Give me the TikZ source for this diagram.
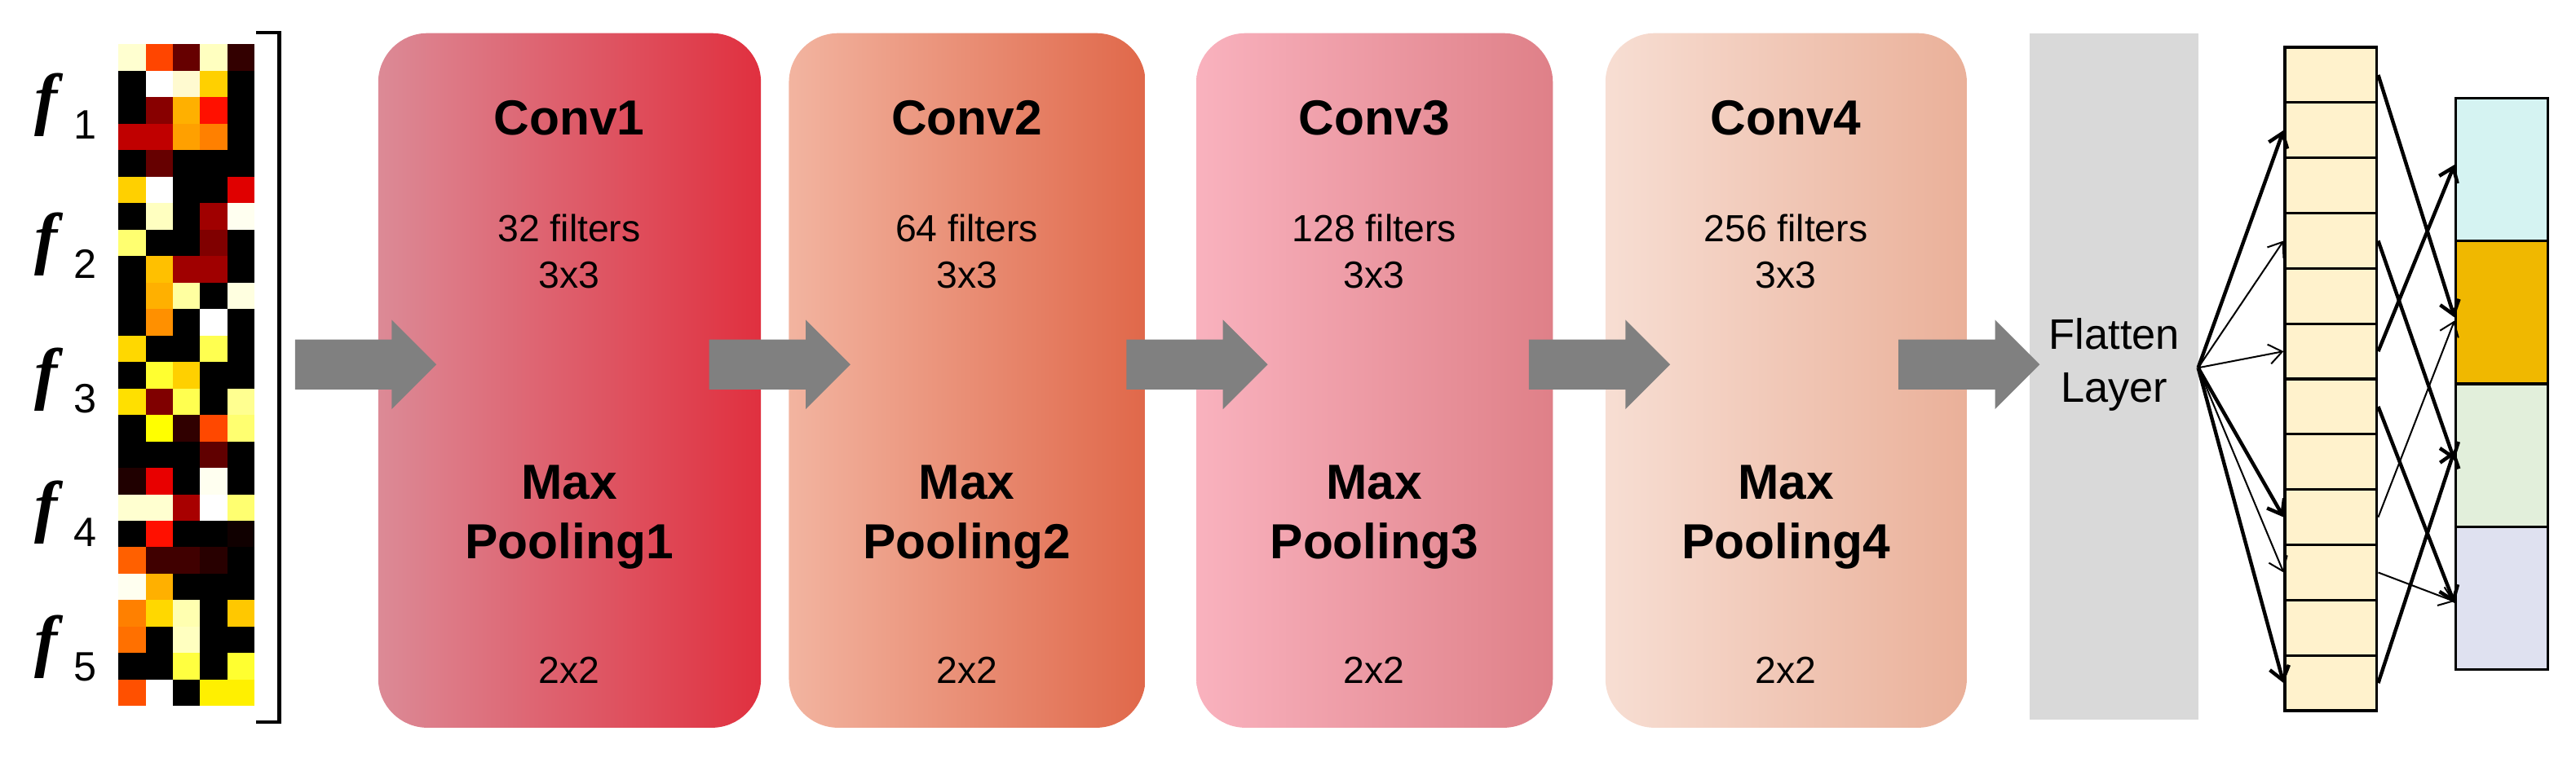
\documentclass[tikz,border=0pt]{standalone}
\usepackage{fontspec}
\setmainfont{Liberation Sans}
\newfontfamily\serifit{Liberation Serif}
\usetikzlibrary{shapes.arrows,arrows.meta}
\begin{document}
\begin{tikzpicture}[x=1pt,y=-1pt,
  blk/.style={single arrow,fill=black!50,draw=none,minimum height=86pt,minimum width=54pt,single arrow head extend=12pt,single arrow head indent=0pt,inner xsep=0pt,inner ysep=15pt,text height=0pt,text depth=0pt},
  conv/.style={rounded corners=30pt,minimum width=#1,minimum height=423pt,anchor=north west,inner sep=0pt},
  ttl/.style={font=\fontsize{30}{32}\selectfont\bfseries,align=center},
  txt/.style={font=\fontsize{23}{28}\selectfont,align=center},
  cell/.style={draw,line width=1.6pt,anchor=north west,inner sep=0pt},
  thk/.style={-{Straight Barb[length=8pt,width=12pt]},line width=2.2pt},
  thn/.style={-{Straight Barb[length=8pt,width=12pt]},line width=1pt}]
\useasboundingbox (0,0) rectangle (1568,464);
% heatmap
\foreach \lst [count=\r from 0] in {
{FFFFD0,FF4500,660000,FFFFC0,330000},
{000000,FFFFFF,FFFAD0,FFD000,000000},
{000000,880000,FFB000,FF1000,000000},
{C00000,C00000,FFA000,FF8000,000000},
{000000,660000,000000,000000,000000},
{FFD000,FFFFFF,000000,000000,E00000},
{000000,FFFFC0,000000,A00000,FFFFF0},
{FFFF70,000000,000000,800000,000000},
{000000,FFC000,A00000,A00000,000000},
{000000,FFB000,FFFFA0,000000,FFFFE0},
{000000,FF9000,000000,FFFFFF,000000},
{FFD800,000000,000000,FFFF50,000000},
{000000,FFFF30,FFD000,000000,000000},
{FFE000,800000,FFFF50,000000,FFFF90},
{000000,FFFF00,300000,FF4800,FFFF70},
{000000,000000,000000,600000,000000},
{200000,E80000,000000,FFFFF0,000000},
{FFFFD0,FFFFD0,A80000,FFFFFF,FFFF70},
{000000,FF1000,000000,000000,100000},
{FF6000,400000,400000,280000,000000},
{FFFFF0,FFB000,000000,000000,000000},
{FF8000,FFD800,FFFFB0,000000,FFC800},
{FF7000,000000,FFFFC0,000000,000000},
{000000,000000,FFFF40,000000,FFFF30},
{FF5000,FFFFFF,000000,FFF000,FFF000}}{
  \foreach \hc [count=\c from 0] in \lst {
    \definecolor{hm}{HTML}{\hc}
    \fill[hm] (72+16.6*\c,27+16.12*\r) rectangle (72+16.6*\c+16.7,27+16.12*\r+16.2);
  }}
\draw[line width=2pt] (156,20) -- (170,20) -- (170,440) -- (156,440);
\foreach \i/\y in {1/70,2/155,3/237,4/318,5/400}{
  \node[font=\fontsize{42}{42}\selectfont\serifit\bfseries\itshape] (f\i) at (28,\y-6) {f};
  \node[font=\fontsize{25}{25}\selectfont] (n\i) at (52,\y+6) {\i};
}
% conv boxes
\definecolor{c1l}{HTML}{DC8A96}\definecolor{c1r}{HTML}{E0303F}
\definecolor{c2l}{HTML}{F2B4A0}\definecolor{c2r}{HTML}{E0684A}
\definecolor{c3l}{HTML}{F9B2BE}\definecolor{c3r}{HTML}{DF8088}
\definecolor{c4l}{HTML}{F7DED3}\definecolor{c4r}{HTML}{EAB099}
\foreach \i/\x/\w/\nf in {1/230/233/32,2/480/217/64,3/728/217/128,4/977/220/256}{
  \node[conv=\w pt,left color=c\i l,right color=c\i r] (conv\i) at (\x,20) {};
  \node[ttl] (t\i) at (\x+\w/2,72) {Conv\i};
  \node[txt] (p\i) at (\x+\w/2,153) {\nf{} filters\\3x3};
  \node[ttl,font=\fontsize{30}{36}\selectfont\bfseries] (m\i) at (\x+\w/2,315) {Max\\Pooling\i};
  \node[txt] (s\i) at (\x+\w/2,408) {2x2};
}
\definecolor{fl}{HTML}{D9D9D9}
\node[fill=fl,minimum width=103pt,minimum height=418pt,anchor=north west,inner sep=0pt] (fl) at (1235,20) {};
\node[font=\fontsize{26}{32}\selectfont,align=center] (flt) at (1287,222) {Flatten\\Layer};
% block arrows
\foreach \i/\x in {1/215,2/467,3/721,4/966,5/1191}{
  \node[blk] (a\i) at (\x,222) {};
}
% cream column
\definecolor{cr}{HTML}{FFF2CC}
\foreach \i in {1,...,12}{
  \node[cell,fill=cr,minimum width=56pt,minimum height=33.67pt] (c\i) at (1390,28+33.67*\i-33.67) {};
}
\definecolor{o1}{HTML}{D5F3F2}\definecolor{o2}{HTML}{F0B800}\definecolor{o3}{HTML}{E2EFDB}\definecolor{o4}{HTML}{DFE1F0}
\foreach \i in {1,...,4}{
  \node[cell,fill=o\i,minimum width=56pt,minimum height=87pt] (o\i) at (1494,59+87*\i-87) {};
}
\coordinate (src) at (1338,224);
\draw[thk] (src) -- (c2.west);
\draw[thn] (src) -- (c4.west);
\draw[thn] (src) -- (c6.west);
\draw[thk] (src) -- (c9.west);
\draw[thn] (src) -- (c10.west);
\draw[thk] (src) -- (c12.west);
\draw[thk] (c1.east) -- ([yshift=-3pt]o2.west);
\draw[thk] (c4.east) -- ([yshift=-3pt]o3.west);
\draw[thk] (c6.east) -- ([yshift=3pt]o1.west);
\draw[thk] (c7.east) -- ([yshift=-3pt]o4.west);
\draw[thn] (c9.east) -- ([yshift=-5pt]o2.west);
\draw[thn] (c10.east) -- ([yshift=-2pt]o4.west);
\draw[thk] (c12.east) -- ([yshift=3pt]o3.west);
\end{tikzpicture}
\end{document}
